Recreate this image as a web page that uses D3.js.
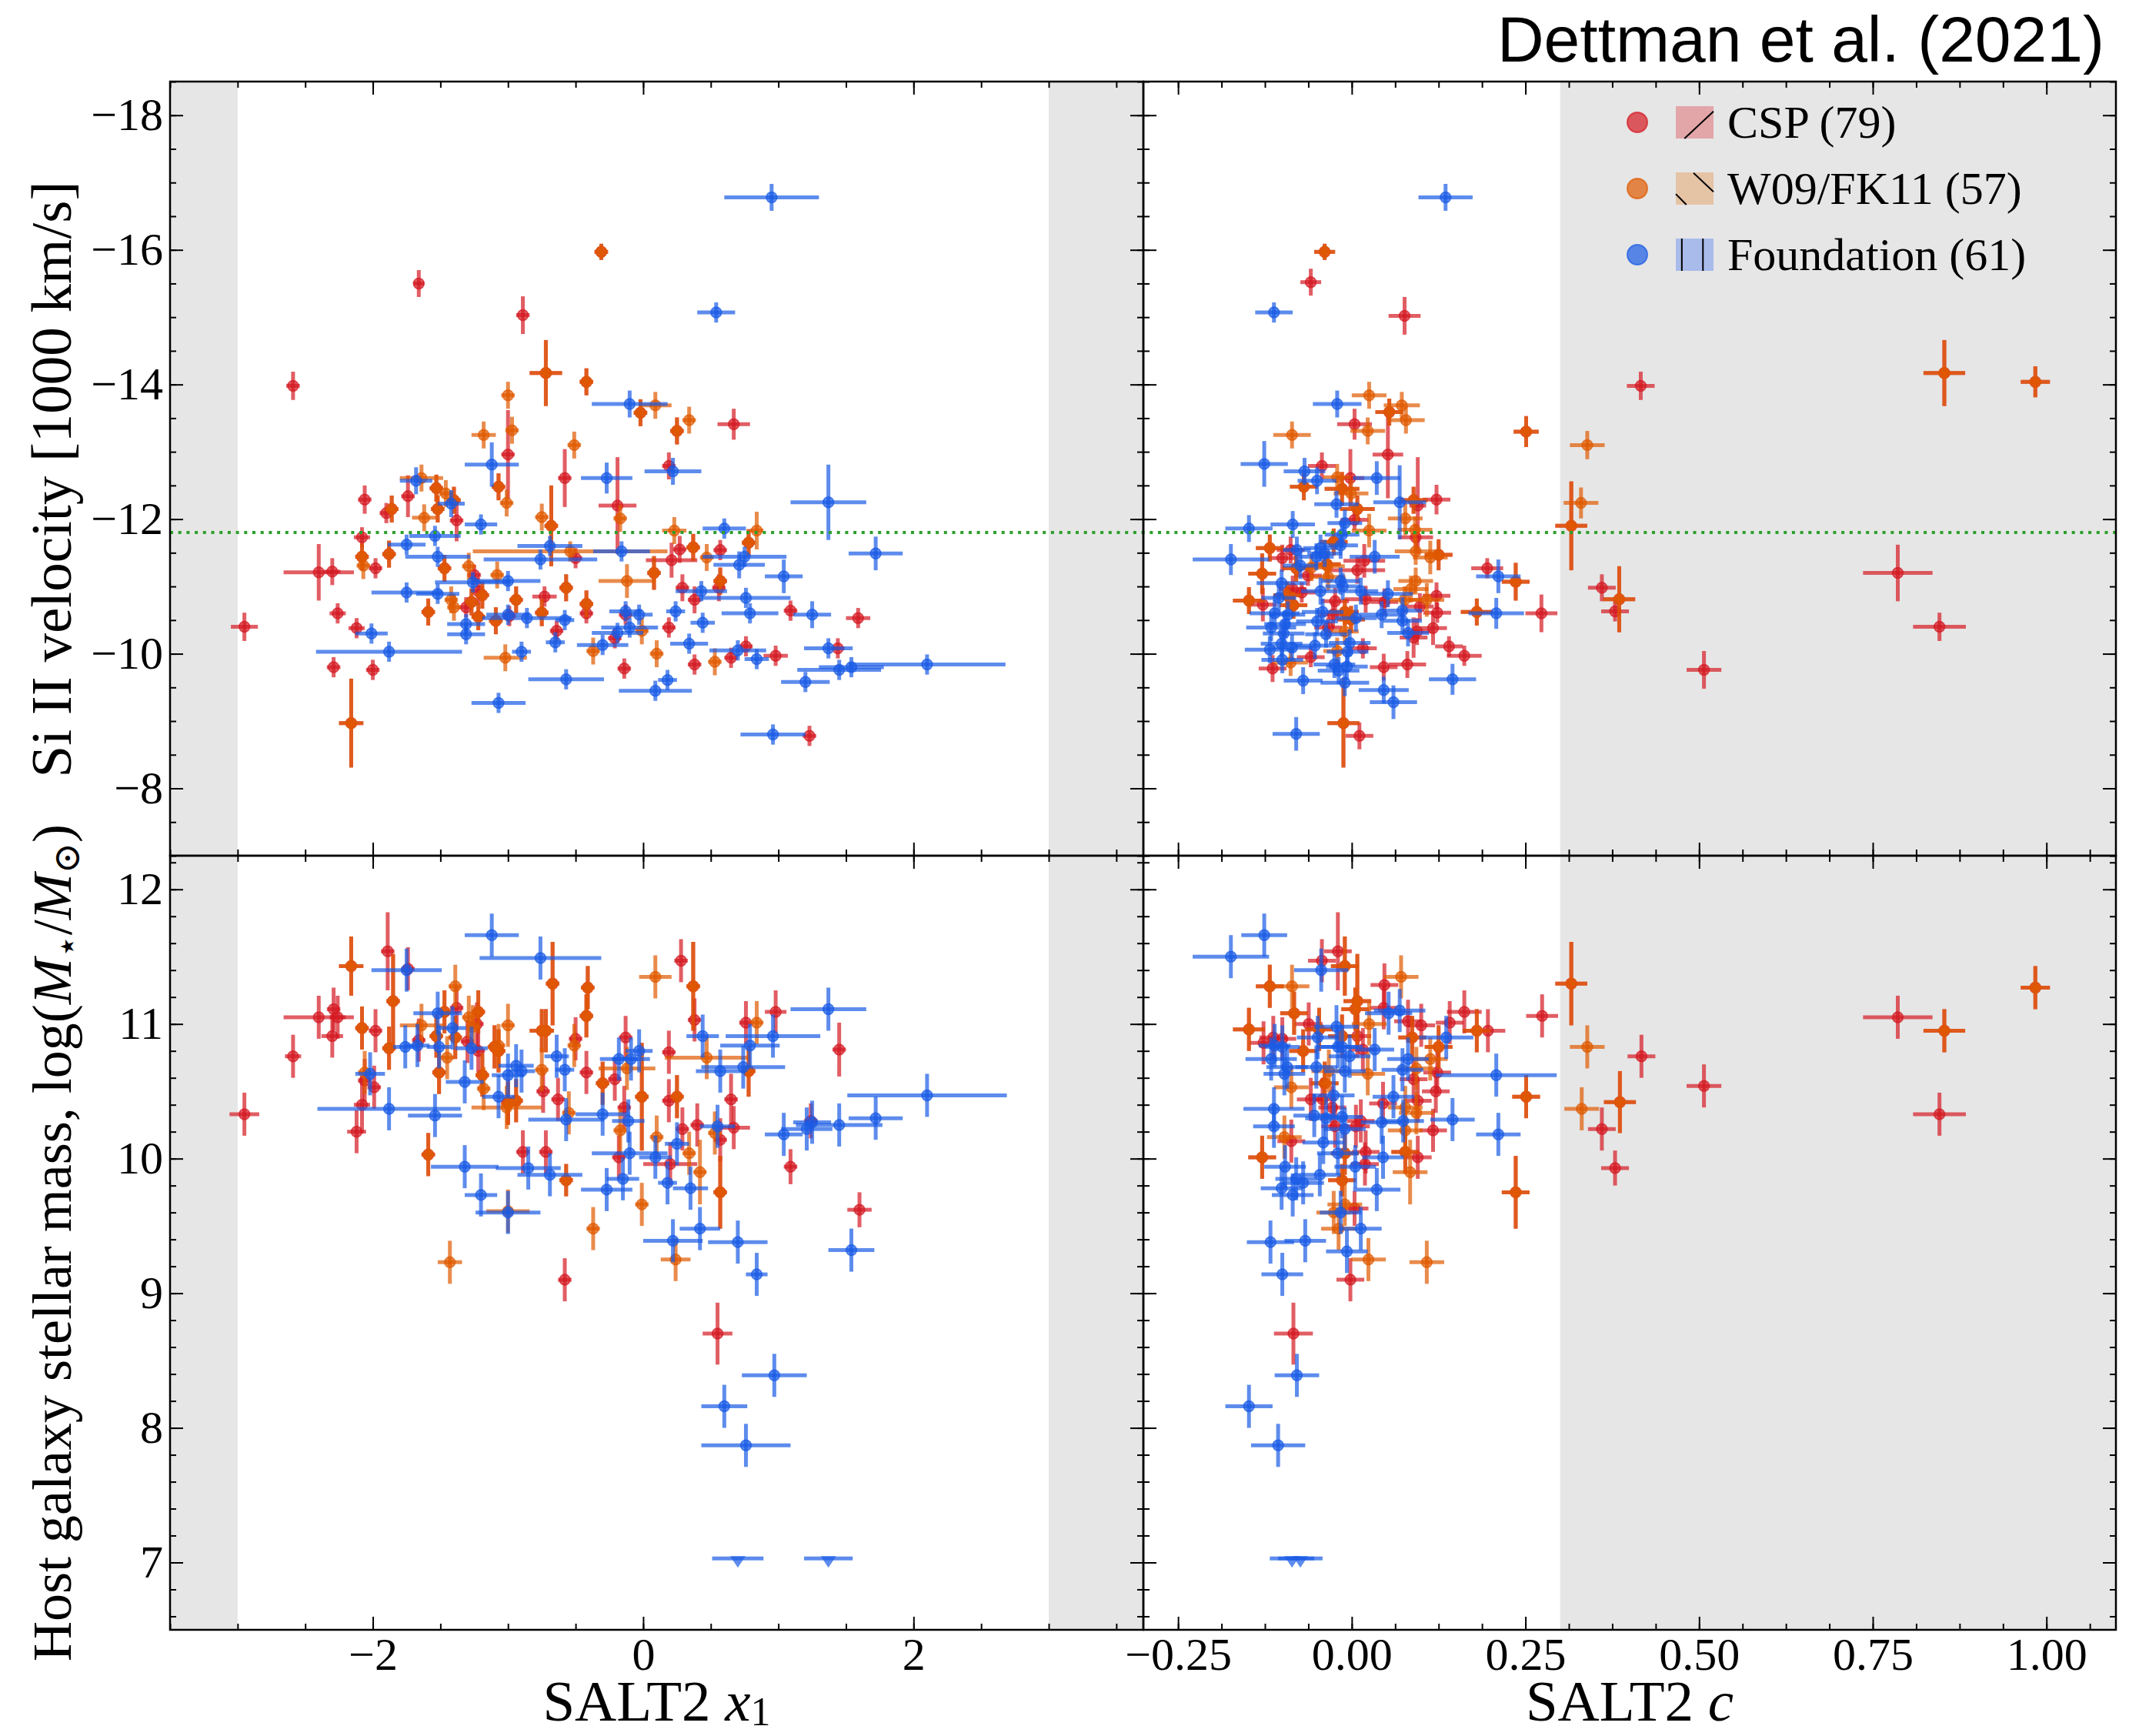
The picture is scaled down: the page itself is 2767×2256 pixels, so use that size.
<!DOCTYPE html>
<html>
<head>
<meta charset="utf-8">
<script src="https://cdn.jsdelivr.net/npm/d3@7"></script>
<style>
  body { margin: 0; background: #fff; }
  svg text { font-family: "Liberation Serif", "DejaVu Serif", serif; fill: #000; }
</style>
</head>
<body>
<svg id="chart"></svg>
<script>
// ---- data: [x, y, xerr, yerr] ----
// "Both" = SNe in CSP and in W09/FK11, plotted in both colours.

// SALT2 x1 vs Si II velocity (1000 km/s)
const x1VelCSP = [
  [-2.95,-10.40,0.10,0.21],[-2.59,-13.98,0.05,0.21],[-0.89,-15.03,0.05,0.28],[-1.66,-15.50,0.04,0.20],
  [-2.40,-11.21,0.26,0.42],[-2.30,-11.22,0.06,0.20],[-2.26,-10.60,0.06,0.15],[-2.12,-10.38,0.06,0.15],
  [-2.29,-9.80,0.05,0.15],[-2.00,-9.76,0.05,0.15],[-2.06,-12.29,0.05,0.21],[-2.08,-11.73,0.06,0.15],
  [-1.98,-11.27,0.05,0.15],[-1.90,-12.09,0.05,0.15],[-1.74,-12.34,0.05,0.31],[-1.38,-11.98,0.05,0.31],
  [-1.00,-12.96,0.05,0.66],[-0.58,-12.61,0.05,0.43],[-1.25,-11.17,0.05,0.15],[-1.31,-10.69,0.05,0.15],
  [-0.73,-10.85,0.09,0.15],[-0.64,-10.34,0.05,0.15],[-0.50,-11.42,0.05,0.15],[-0.42,-10.60,0.05,0.15],
  [-0.19,-12.20,0.14,0.72],[-0.21,-10.23,0.05,0.15],[-0.14,-9.78,0.05,0.15],[0.19,-12.79,0.05,0.20],
  [0.67,-13.41,0.12,0.23],[0.27,-11.55,0.05,0.20],[0.21,-11.39,0.19,0.26],[0.29,-10.98,0.05,0.20],
  [0.38,-10.80,0.05,0.20],[0.56,-10.98,0.05,0.20],[0.57,-11.54,0.05,0.15],[0.19,-10.39,0.05,0.15],
  [0.38,-9.84,0.05,0.15],[0.65,-9.94,0.05,0.15],[0.76,-10.11,0.05,0.15],[0.98,-9.97,0.09,0.15],
  [1.09,-10.64,0.05,0.15],[1.44,-10.08,0.05,0.15],[1.59,-10.53,0.09,0.15],[1.23,-8.78,0.05,0.15],
  [-0.13,-10.58,0.05,0.15],[-0.99,-10.56,0.05,0.15],[-1.22,-10.93,0.05,0.20]
];
const x1VelBoth = [
  [-0.31,-15.97,0.05,0.12],[-0.72,-14.17,0.12,0.49],[-0.42,-14.04,0.05,0.20],[-0.02,-13.58,0.05,0.20],
  [0.25,-13.31,0.05,0.20],[-1.07,-12.48,0.05,0.20],[-1.86,-12.15,0.05,0.20],[-1.53,-12.46,0.05,0.20],
  [-1.52,-12.15,0.05,0.20],[-1.40,-12.28,0.05,0.20],[-0.68,-11.90,0.05,0.60],[-2.08,-11.44,0.05,0.20],
  [-1.88,-11.48,0.05,0.20],[-1.47,-11.27,0.05,0.20],[-1.59,-10.62,0.05,0.20],[-1.22,-10.55,0.05,0.20],
  [-1.09,-10.49,0.05,0.20],[-0.94,-10.80,0.05,0.20],[-1.19,-10.87,0.05,0.20],[-1.27,-10.77,0.05,0.20],
  [-0.75,-10.61,0.05,0.20],[-0.57,-10.98,0.05,0.20],[-0.42,-10.74,0.05,0.20],[0.08,-11.20,0.05,0.25],
  [0.37,-11.58,0.05,0.20],[0.78,-11.65,0.05,0.20],[-2.16,-8.97,0.09,0.66],[0.57,-11.08,0.05,0.20]
];
const x1VelW09 = [
  [-1.00,-13.84,0.05,0.20],[-0.97,-13.32,0.05,0.20],[-1.18,-13.25,0.09,0.20],[-0.51,-13.10,0.05,0.20],
  [0.09,-13.69,0.12,0.20],[0.34,-13.47,0.05,0.20],[-1.64,-12.61,0.16,0.20],[-1.46,-12.38,0.05,0.20],
  [-1.62,-12.02,0.09,0.20],[-1.01,-12.24,0.05,0.20],[-0.75,-12.03,0.05,0.20],[-0.17,-12.01,0.05,0.20],
  [0.23,-11.83,0.09,0.20],[0.84,-11.83,0.05,0.28],[-0.54,-11.52,0.72,0.15],[-2.07,-11.31,0.05,0.20],
  [-1.29,-11.30,0.05,0.20],[-1.08,-11.17,0.05,0.20],[-1.42,-10.80,0.05,0.20],[-1.40,-10.69,0.05,0.20],
  [-0.12,-11.08,0.21,0.25],[0.47,-11.43,0.05,0.20],[-0.01,-10.34,0.05,0.20],[-0.37,-10.04,0.05,0.20],
  [0.10,-10.00,0.05,0.20],[0.53,-9.88,0.05,0.20],[-1.02,-9.94,0.16,0.20]
];
const x1VelFnd = [
  [0.95,-16.78,0.35,0.20],[0.54,-15.07,0.14,0.15],[-0.10,-13.71,0.28,0.20],[-1.12,-12.81,0.20,0.33],
  [-1.68,-12.57,0.12,0.20],[-1.42,-12.23,0.10,0.20],[-0.27,-12.61,0.19,0.23],[0.22,-12.71,0.21,0.20],
  [1.37,-12.25,0.28,0.56],[-1.20,-11.92,0.12,0.15],[-1.54,-11.75,0.19,0.15],[-1.75,-11.62,0.14,0.15],
  [-1.52,-11.44,0.24,0.15],[-0.69,-11.60,0.24,0.15],[-0.76,-11.40,0.42,0.15],[-0.16,-11.52,0.21,0.15],
  [0.60,-11.86,0.16,0.15],[1.72,-11.49,0.20,0.25],[0.71,-11.32,0.19,0.20],[0.75,-11.44,0.31,0.15],
  [1.04,-11.15,0.14,0.25],[-1.75,-10.91,0.26,0.15],[-1.52,-10.89,0.16,0.15],[-1.26,-11.06,0.28,0.15],
  [-1.00,-11.08,0.24,0.15],[0.43,-10.93,0.19,0.15],[0.76,-10.83,0.33,0.15],[0.79,-10.60,0.21,0.15],
  [1.25,-10.58,0.14,0.20],[0.24,-10.63,0.07,0.15],[0.44,-10.46,0.09,0.15],[-0.13,-10.63,0.12,0.15],
  [-0.03,-10.58,0.10,0.15],[-1.00,-10.58,0.16,0.15],[-0.86,-10.53,0.33,0.15],[-0.58,-10.50,0.07,0.15],
  [-1.31,-10.44,0.14,0.15],[-1.31,-10.29,0.14,0.15],[-2.01,-10.30,0.12,0.15],[-1.88,-10.03,0.54,0.15],
  [-0.90,-10.03,0.07,0.15],[-0.65,-10.17,0.07,0.15],[-0.30,-10.13,0.19,0.15],[-0.19,-10.31,0.19,0.15],
  [-0.10,-10.39,0.21,0.15],[0.34,-10.15,0.14,0.15],[0.70,-10.05,0.21,0.15],[0.84,-9.92,0.09,0.15],
  [1.37,-10.08,0.18,0.15],[1.45,-9.76,0.31,0.15],[1.54,-9.80,0.24,0.15],[2.10,-9.84,0.58,0.15],
  [1.20,-9.58,0.18,0.15],[0.18,-9.61,0.07,0.15],[0.09,-9.45,0.27,0.15],[-0.57,-9.62,0.28,0.15],
  [-1.07,-9.27,0.20,0.15],[0.96,-8.80,0.24,0.15]
];

// SALT2 c vs Si II velocity
const cVelCSP = [
  [0.416,-13.98,0.020,0.21],[0.786,-11.20,0.050,0.42],[0.360,-10.98,0.020,0.20],[0.379,-10.63,0.020,0.15],
  [0.846,-10.40,0.038,0.21],[0.507,-9.76,0.025,0.28],[0.273,-10.60,0.023,0.28],[0.195,-11.27,0.023,0.15],
  [0.140,-10.11,0.020,0.15],[0.162,-9.97,0.025,0.15],[0.076,-15.02,0.023,0.28],[-0.059,-15.52,0.015,0.20],
  [0.004,-13.41,0.025,0.23],[0.052,-12.96,0.022,0.65],[-0.043,-12.79,0.020,0.20],[-0.002,-12.61,0.020,0.43],
  [0.122,-12.29,0.020,0.22],[0.095,-12.20,0.012,0.72],[0.004,-11.99,0.020,0.15],[0.092,-11.73,0.025,0.20],
  [-0.088,-11.54,0.020,0.20],[-0.100,-11.42,0.020,0.20],[0.018,-11.38,0.030,0.25],[0.008,-11.24,0.040,0.20],
  [-0.063,-11.16,0.020,0.15],[-0.085,-10.96,0.020,0.20],[-0.072,-10.91,0.020,0.15],[-0.128,-10.73,0.020,0.25],
  [-0.024,-10.78,0.020,0.20],[0.020,-10.81,0.030,0.20],[0.047,-10.77,0.020,0.20],[0.122,-10.86,0.020,0.20],
  [0.098,-10.70,0.020,0.20],[0.123,-10.61,0.020,0.15],[-0.027,-10.58,0.020,0.20],[-0.034,-10.39,0.020,0.15],
  [0.094,-10.33,0.020,0.20],[0.089,-10.24,0.020,0.30],[0.117,-10.38,0.020,0.25],[0.016,-10.08,0.020,0.15],
  [-0.059,-9.95,0.020,0.15],[0.046,-9.80,0.020,0.20],[0.080,-9.84,0.027,0.20],[-0.114,-9.78,0.020,0.20],
  [0.011,-8.78,0.020,0.20]
];
const cVelBoth = [
  [-0.039,-15.97,0.015,0.12],[0.853,-14.17,0.030,0.49],[0.984,-14.04,0.021,0.23],[0.251,-13.30,0.018,0.23],
  [0.316,-11.90,0.023,0.66],[0.385,-10.81,0.023,0.49],[0.180,-10.62,0.023,0.20],[0.236,-11.07,0.020,0.28],
  [-0.012,-8.97,0.023,0.66],[0.054,-13.59,0.020,0.20],[-0.069,-12.48,0.020,0.20],[-0.014,-12.45,0.025,0.25],
  [0.008,-12.15,0.025,0.20],[0.089,-12.28,0.020,0.20],[-0.026,-11.66,0.020,0.20],[-0.118,-11.57,0.020,0.20],
  [-0.129,-11.19,0.020,0.30],[0.125,-11.47,0.020,0.23],[-0.148,-10.79,0.023,0.20],[-0.084,-10.72,0.020,0.20],
  [-0.093,-10.87,0.020,0.20],[-0.010,-10.62,0.020,0.20],[-0.001,-10.51,0.020,0.20],[-0.080,-11.27,0.020,0.20],
  [-0.036,-11.33,0.020,0.20]
];
const cVelW09 = [
  [0.339,-13.10,0.025,0.21],[0.330,-12.24,0.025,0.23],[-0.086,-13.25,0.027,0.20],[0.025,-13.84,0.025,0.20],
  [0.072,-13.69,0.026,0.20],[0.078,-13.47,0.027,0.20],[0.023,-13.31,0.025,0.20],[-0.021,-12.62,0.020,0.20],
  [-0.001,-12.38,0.025,0.20],[0.077,-12.01,0.025,0.25],[0.091,-11.84,0.025,0.20],[0.025,-11.83,0.025,0.25],
  [0.092,-11.52,0.030,0.20],[0.113,-11.43,0.025,0.25],[-0.035,-11.30,0.025,0.20],[-0.034,-11.14,0.025,0.20],
  [-0.058,-11.28,0.025,0.20],[0.092,-11.08,0.025,0.20],[0.085,-10.96,0.025,0.20],[0.108,-10.80,0.025,0.25],
  [0.076,-10.80,0.025,0.20],[-0.010,-10.33,0.020,0.20],[-0.088,-9.87,0.025,0.20],[-0.021,-10.04,0.020,0.20]
];
const cVelFnd = [
  [0.135,-16.78,0.039,0.20],[-0.112,-15.07,0.027,0.15],[-0.021,-13.71,0.035,0.20],[-0.126,-12.82,0.034,0.34],
  [-0.068,-12.71,0.030,0.20],[-0.050,-12.57,0.028,0.20],[0.036,-12.61,0.034,0.25],[0.069,-12.25,0.038,0.55],
  [-0.022,-12.22,0.032,0.20],[-0.085,-11.92,0.032,0.20],[-0.148,-11.86,0.034,0.20],[-0.010,-11.94,0.025,0.20],
  [-0.014,-11.77,0.025,0.20],[-0.016,-11.61,0.025,0.20],[-0.174,-11.40,0.055,0.23],[-0.079,-11.54,0.020,0.20],
  [-0.045,-11.57,0.025,0.20],[-0.051,-11.44,0.025,0.20],[-0.039,-11.49,0.025,0.20],[-0.074,-11.31,0.025,0.20],
  [0.033,-11.44,0.036,0.25],[-0.101,-11.05,0.036,0.20],[-0.016,-11.08,0.028,0.20],[-0.013,-11.00,0.025,0.20],
  [-0.045,-10.93,0.028,0.20],[0.013,-10.93,0.025,0.20],[0.052,-10.89,0.036,0.20],[0.211,-11.15,0.032,0.25],
  [-0.105,-10.83,0.025,0.20],[-0.111,-10.60,0.036,0.20],[-0.092,-10.58,0.025,0.20],[-0.042,-10.62,0.030,0.20],
  [0.043,-10.58,0.032,0.20],[0.073,-10.64,0.028,0.20],[0.073,-10.49,0.028,0.20],[0.208,-10.60,0.040,0.23],
  [0.006,-10.53,0.030,0.20],[-0.116,-10.39,0.036,0.20],[-0.096,-10.44,0.030,0.20],[-0.098,-10.30,0.030,0.20],
  [-0.050,-10.48,0.030,0.20],[-0.037,-10.29,0.030,0.20],[0.081,-10.31,0.030,0.20],[-0.003,-10.16,0.030,0.20],
  [-0.101,-10.15,0.030,0.20],[-0.053,-10.12,0.030,0.20],[-0.086,-10.09,0.030,0.20],[-0.118,-10.06,0.036,0.20],
  [-0.100,-9.91,0.030,0.20],[-0.006,-10.03,0.030,0.20],[-0.025,-9.84,0.030,0.20],[-0.007,-9.81,0.030,0.20],
  [-0.019,-9.75,0.030,0.20],[-0.010,-9.57,0.035,0.20],[-0.070,-9.60,0.028,0.20],[0.046,-9.46,0.036,0.20],
  [0.060,-9.28,0.034,0.25],[0.145,-9.62,0.034,0.23],[-0.080,-8.81,0.034,0.25]
];

// SALT2 x1 vs host mass log(M*/Msun)
const x1MassCSP = [
  [-2.95,10.33,0.11,0.16],[-2.59,10.76,0.06,0.16],[-2.40,11.05,0.26,0.16],[-2.29,11.11,0.05,0.16],
  [-2.26,11.05,0.06,0.16],[-2.30,10.91,0.08,0.16],[-2.08,10.40,0.06,0.21],[-2.12,10.20,0.07,0.16],
  [-1.98,10.95,0.05,0.16],[-1.99,10.53,0.05,0.16],[-2.06,10.58,0.05,0.16],[-1.89,11.54,0.05,0.29],
  [-1.74,11.41,0.05,0.16],[-1.66,10.88,0.05,0.16],[-1.38,11.12,0.05,0.16],[-1.30,10.87,0.05,0.16],
  [-1.23,11.00,0.05,0.16],[-1.22,10.80,0.05,0.16],[-1.00,10.42,0.05,0.16],[-0.89,10.05,0.05,0.16],
  [-0.74,10.50,0.05,0.16],[-0.72,10.05,0.05,0.16],[-0.63,10.44,0.05,0.16],[-0.58,9.10,0.05,0.16],
  [-0.50,10.89,0.05,0.16],[-0.42,10.64,0.05,0.16],[-0.21,10.59,0.05,0.16],[-0.13,10.90,0.05,0.16],
  [-0.14,10.38,0.05,0.16],[-0.18,10.01,0.05,0.16],[0.19,10.79,0.05,0.16],[0.19,10.43,0.05,0.16],
  [0.20,9.96,0.20,0.16],[0.28,11.47,0.05,0.16],[0.38,11.03,0.05,0.16],[0.76,11.01,0.05,0.16],
  [0.98,11.09,0.08,0.16],[1.45,10.81,0.05,0.20],[0.65,10.44,0.05,0.19],[0.40,10.25,0.05,0.16],
  [0.29,10.22,0.05,0.16],[0.67,10.23,0.12,0.16],[0.57,10.14,0.05,0.16],[1.09,9.94,0.05,0.13],
  [1.24,10.28,0.05,0.13],[1.60,9.62,0.09,0.13],[0.55,8.70,0.11,0.23]
];
const x1MassBoth = [
  [-2.16,11.43,0.09,0.22],[-2.08,10.97,0.05,0.16],[-1.85,11.17,0.05,0.35],[-1.88,10.82,0.05,0.16],
  [-1.59,10.03,0.05,0.16],[-1.51,10.64,0.05,0.16],[-1.53,10.91,0.05,0.16],[-1.47,11.09,0.05,0.16],
  [-1.39,10.90,0.05,0.16],[-1.22,11.09,0.05,0.16],[-1.19,10.62,0.05,0.16],[-1.10,10.83,0.05,0.16],
  [-1.07,10.80,0.05,0.16],[-0.94,10.43,0.05,0.16],[-1.00,10.41,0.05,0.16],[-0.67,11.30,0.05,0.31],
  [-0.75,10.95,0.09,0.16],[-0.72,10.95,0.05,0.16],[-0.57,9.84,0.05,0.12],[-0.41,11.27,0.05,0.16],
  [-0.42,11.06,0.05,0.16],[-0.30,10.56,0.05,0.16],[-0.01,10.46,0.05,0.40],[0.37,11.28,0.05,0.33],
  [0.25,10.46,0.05,0.16],[0.78,10.65,0.05,0.19],[0.57,9.75,0.05,0.27]
];
const x1MassW09 = [
  [-2.06,10.64,0.05,0.16],[-1.64,10.99,0.16,0.16],[-1.45,10.75,0.05,0.16],[-1.39,11.28,0.05,0.16],
  [-1.29,11.05,0.05,0.16],[-1.26,10.98,0.05,0.16],[-1.18,10.52,0.05,0.16],[-1.00,10.99,0.05,0.16],
  [-1.07,10.84,0.05,0.16],[-1.01,10.38,0.26,0.16],[-1.43,9.23,0.09,0.16],[-0.75,10.66,0.05,0.16],
  [-0.51,10.84,0.05,0.16],[-0.55,10.34,0.05,0.16],[-0.17,10.21,0.05,0.16],[-0.12,10.67,0.21,0.16],
  [0.09,11.35,0.12,0.16],[0.10,10.16,0.05,0.16],[-0.01,9.66,0.05,0.16],[-0.37,9.48,0.05,0.16],
  [-1.00,9.61,0.16,0.16],[0.84,11.01,0.05,0.16],[0.47,10.75,0.31,0.16],[0.53,10.19,0.05,0.16],
  [0.34,10.04,0.05,0.16],[0.42,9.90,0.05,0.24],[0.24,9.25,0.11,0.16]
];
const x1MassFnd = [
  [-1.12,11.66,0.20,0.16],[-0.76,11.49,0.45,0.16],[-1.75,11.40,0.26,0.16],[-1.52,11.08,0.18,0.16],
  [-1.41,10.97,0.10,0.16],[-1.76,10.83,0.09,0.16],[-1.67,10.84,0.09,0.16],[-1.51,10.83,0.09,0.16],
  [-1.27,10.82,0.12,0.16],[-2.02,10.63,0.11,0.16],[-1.88,10.37,0.53,0.16],[-1.54,10.32,0.20,0.16],
  [-1.32,10.57,0.14,0.16],[-1.07,10.46,0.12,0.16],[-1.00,10.62,0.12,0.16],[-0.94,10.69,0.13,0.16],
  [-0.90,10.65,0.10,0.16],[-0.64,10.76,0.09,0.16],[-0.58,10.66,0.07,0.16],[-0.57,10.29,0.28,0.16],
  [-0.30,10.33,0.20,0.16],[-0.18,10.74,0.14,0.16],[-0.09,10.74,0.14,0.16],[-0.03,10.80,0.10,0.16],
  [-0.11,10.28,0.12,0.16],[-0.10,10.04,0.28,0.16],[-1.32,9.94,0.25,0.16],[-0.85,9.93,0.24,0.16],
  [-0.69,9.88,0.24,0.16],[-1.20,9.73,0.12,0.16],[-1.00,9.60,0.24,0.16],[-0.27,9.77,0.19,0.16],
  [-0.15,9.85,0.12,0.16],[0.18,9.82,0.07,0.16],[1.37,11.11,0.28,0.16],[0.44,10.91,0.12,0.16],
  [0.79,10.84,0.22,0.16],[0.96,10.91,0.35,0.16],[0.57,10.65,0.18,0.16],[0.74,10.68,0.31,0.16],
  [2.10,10.47,0.59,0.16],[0.55,10.24,0.13,0.16],[1.04,10.18,0.14,0.16],[1.21,10.22,0.19,0.16],
  [1.25,10.27,0.14,0.16],[1.45,10.25,0.32,0.16],[1.72,10.30,0.20,0.16],[0.25,10.11,0.09,0.16],
  [0.09,10.01,0.12,0.16],[0.35,9.78,0.13,0.16],[0.42,9.48,0.15,0.16],[0.22,9.39,0.22,0.16],
  [0.70,9.38,0.22,0.16],[0.84,9.14,0.08,0.16],[1.54,9.32,0.17,0.16],[0.97,8.39,0.24,0.16],
  [0.60,8.16,0.17,0.16],[0.76,7.87,0.33,0.16]
];
const x1MassFndLim = [[0.70,7.03,0.19],[1.37,7.03,0.18]];  // upper limits [x, y, xerr]

// SALT2 c vs host mass
const cMassCSP = [
  [-0.020,11.54,0.020,0.29],[-0.043,11.47,0.020,0.16],[0.047,11.29,0.020,0.16],[0.162,11.09,0.025,0.16],
  [0.141,11.01,0.020,0.16],[0.196,10.95,0.025,0.16],[0.100,10.99,0.020,0.16],[0.046,11.12,0.020,0.16],
  [0.081,11.02,0.020,0.16],[-0.127,10.86,0.020,0.16],[-0.113,10.90,0.020,0.16],[-0.100,10.89,0.020,0.16],
  [0.008,10.91,0.020,0.16],[0.016,10.81,0.020,0.16],[-0.062,11.00,0.020,0.16],[0.089,10.59,0.020,0.16],
  [0.123,10.64,0.020,0.16],[0.121,10.50,0.020,0.16],[0.095,10.43,0.020,0.16],[-0.059,10.44,0.020,0.16],
  [-0.042,10.44,0.020,0.16],[-0.028,10.38,0.020,0.16],[0.045,10.41,0.020,0.16],[0.117,10.21,0.020,0.16],
  [0.013,10.28,0.020,0.16],[0.006,10.24,0.020,0.16],[-0.024,10.24,0.020,0.16],[-0.087,10.13,0.020,0.16],
  [0.020,10.05,0.020,0.16],[0.019,9.96,0.020,0.16],[0.095,10.01,0.020,0.16],[0.004,9.63,0.020,0.13],
  [-0.002,9.10,0.020,0.16],[-0.084,8.70,0.028,0.23],[0.274,11.06,0.023,0.16],[0.360,10.22,0.020,0.16],
  [0.379,9.93,0.020,0.13],[0.417,10.76,0.020,0.16],[0.786,11.05,0.050,0.16],[0.846,10.33,0.038,0.16],
  [0.507,10.54,0.025,0.16]
];
const cMassBoth = [
  [-0.118,11.28,0.020,0.16],[-0.148,10.96,0.023,0.16],[-0.083,11.08,0.020,0.16],[-0.010,11.43,0.020,0.22],
  [0.008,11.17,0.020,0.35],[0.005,11.11,0.020,0.16],[-0.047,10.96,0.020,0.16],[-0.014,10.91,0.020,0.16],
  [-0.070,10.80,0.020,0.16],[0.087,10.90,0.020,0.16],[0.125,10.83,0.020,0.16],[0.180,10.95,0.020,0.16],
  [-0.039,10.56,0.020,0.16],[-0.129,10.01,0.020,0.16],[-0.014,9.84,0.020,0.12],[-0.010,10.04,0.020,0.16],
  [0.077,10.05,0.020,0.16],[0.251,10.46,0.020,0.16],[0.236,9.75,0.020,0.27],[0.316,11.30,0.023,0.31],
  [0.386,10.42,0.023,0.23],[0.853,10.95,0.030,0.16],[0.984,11.27,0.021,0.16]
];
const cMassW09 = [
  [-0.086,11.28,0.025,0.16],[0.071,11.35,0.025,0.16],[0.025,11.00,0.025,0.16],[0.113,10.74,0.025,0.16],
  [0.093,10.67,0.025,0.16],[0.023,10.63,0.025,0.16],[-0.087,10.53,0.025,0.16],[-0.033,10.65,0.025,0.16],
  [0.077,10.38,0.025,0.16],[0.093,10.34,0.025,0.16],[0.077,10.21,0.025,0.16],[-0.097,10.16,0.025,0.16],
  [0.084,9.90,0.025,0.24],[-0.010,9.66,0.025,0.16],[-0.026,9.60,0.025,0.16],[-0.019,9.48,0.025,0.16],
  [0.024,9.25,0.025,0.16],[0.108,9.23,0.025,0.16],[0.339,10.83,0.025,0.16],[0.331,10.37,0.025,0.16]
];
const cMassFnd = [
  [-0.126,11.66,0.033,0.16],[-0.174,11.50,0.055,0.16],[-0.044,11.40,0.039,0.16],[0.053,11.08,0.034,0.16],
  [0.069,11.10,0.037,0.16],[-0.022,10.98,0.032,0.16],[-0.049,10.90,0.030,0.16],[-0.111,10.84,0.023,0.16],
  [-0.100,10.83,0.025,0.16],[-0.116,10.74,0.037,0.16],[-0.097,10.63,0.030,0.16],[-0.093,10.68,0.030,0.16],
  [-0.051,10.68,0.030,0.16],[-0.020,10.83,0.030,0.16],[-0.014,10.83,0.030,0.16],[-0.003,10.76,0.030,0.16],
  [-0.010,10.65,0.030,0.16],[0.033,10.81,0.028,0.16],[0.081,10.74,0.030,0.16],[0.073,10.66,0.030,0.16],
  [0.136,10.90,0.039,0.16],[0.208,10.62,0.087,0.16],[-0.112,10.37,0.044,0.16],[-0.112,10.24,0.030,0.16],
  [-0.054,10.32,0.030,0.16],[-0.037,10.30,0.030,0.16],[-0.014,10.31,0.030,0.16],[-0.010,10.22,0.030,0.16],
  [-0.026,10.47,0.030,0.16],[0.043,10.27,0.030,0.16],[0.060,10.46,0.030,0.16],[0.074,10.28,0.030,0.16],
  [0.145,10.29,0.032,0.16],[0.211,10.18,0.032,0.16],[-0.041,10.12,0.030,0.16],[-0.020,10.04,0.030,0.16],
  [0.045,10.01,0.030,0.16],[-0.096,9.94,0.030,0.16],[-0.046,9.88,0.030,0.16],[0.005,9.94,0.030,0.16],
  [-0.080,9.85,0.030,0.16],[-0.070,9.82,0.030,0.16],[-0.101,9.78,0.030,0.16],[-0.085,9.73,0.030,0.16],
  [0.036,9.77,0.034,0.16],[-0.016,9.60,0.030,0.16],[0.013,9.48,0.030,0.16],[-0.117,9.38,0.034,0.16],
  [-0.067,9.39,0.030,0.16],[-0.007,9.31,0.030,0.16],[-0.100,9.14,0.030,0.16],[-0.079,8.39,0.032,0.16],
  [-0.148,8.16,0.034,0.16],[-0.106,7.87,0.039,0.16]
];
const cMassFndLim = [[-0.086,7.03,0.032],[-0.074,7.03,0.032]];

const legendLabels = ['CSP (79)', 'W09/FK11 (57)', 'Foundation (61)'];
const velCut = -11.8;   // dotted line
const x1Cut = 3;        // shaded |x1| > 3
const cCut = 0.3;       // shaded c > 0.3

// ---- layout ----
const W = 2767, H = 2256;
const L = 221, M = 1486, R = 2750, T = 106, MY = 1112, B = 2118;
const colCSP = '#d41a22', colW09 = '#e05a00', colFnd = '#1a5be6';
const alpha = 0.7;

const svg = d3.select('#chart').attr('width', W).attr('height', H)
  .style('display', 'block').style('background', '#fff');

const x1 = d3.scaleLinear().domain([-3.5, 3.7]).range([L, M]);
const cx = d3.scaleLinear().domain([-0.3, 1.1]).range([M, R]);
const vel = d3.scaleLinear().domain([-7, -18.5]).range([MY, T]);
const mass = d3.scaleLinear().domain([6.5, 12.25]).range([B, MY]);

const stepRange = (a, b, s) => d3.range(Math.round((b - a) / s) + 1).map(i => +(a + i * s).toFixed(5));
const x1Major = [-2, 0, 2], x1Minor = stepRange(-3.5, 3.5, 0.5);
const cMajor = [-0.25, 0, 0.25, 0.5, 0.75, 1.0], cMinor = stepRange(-0.25, 1.0625, 0.0625);
const velMajor = [-18, -16, -14, -12, -10, -8], velMinor = stepRange(-18.5, -7, 0.5);
const massMajor = [7, 8, 9, 10, 11, 12], massMinor = stepRange(6.6, 12.2, 0.2);

// shaded regions
function shade(xs, ys, x0, x1v) {
  svg.append('rect')
    .attr('x', xs(x0)).attr('y', ys.range()[1])
    .attr('width', xs(x1v) - xs(x0)).attr('height', ys.range()[0] - ys.range()[1])
    .attr('fill', '#e6e6e6');
}
shade(x1, vel, -3.5, -x1Cut); shade(x1, vel, x1Cut, 3.7);
shade(x1, mass, -3.5, -x1Cut); shade(x1, mass, x1Cut, 3.7);
shade(cx, vel, cCut, 1.1); shade(cx, mass, cCut, 1.1);

// error bar series: all bars first, then markers
function series(xs, ys, data, col) {
  const g = svg.append('g');
  g.selectAll('line.h').data(data).join('line')
    .attr('x1', d => xs(d[0] - d[2])).attr('x2', d => xs(d[0] + d[2]))
    .attr('y1', d => ys(d[1])).attr('y2', d => ys(d[1]))
    .attr('stroke', col).attr('stroke-opacity', alpha).attr('stroke-width', 5);
  g.selectAll('line.v').data(data).join('line')
    .attr('x1', d => xs(d[0])).attr('x2', d => xs(d[0]))
    .attr('y1', d => ys(d[1] - d[3])).attr('y2', d => ys(d[1] + d[3]))
    .attr('stroke', col).attr('stroke-opacity', alpha).attr('stroke-width', 5);
  g.selectAll('circle').data(data).join('circle')
    .attr('cx', d => xs(d[0])).attr('cy', d => ys(d[1])).attr('r', 7)
    .attr('fill', col).attr('fill-opacity', alpha)
    .attr('stroke', col).attr('stroke-opacity', alpha).attr('stroke-width', 1.5);
}

function limits(xs, ys, data, col) {
  const g = svg.append('g');
  g.selectAll('line').data(data).join('line')
    .attr('x1', d => xs(d[0] - d[2])).attr('x2', d => xs(d[0] + d[2]))
    .attr('y1', d => ys(d[1])).attr('y2', d => ys(d[1]))
    .attr('stroke', col).attr('stroke-opacity', alpha).attr('stroke-width', 5);
  g.selectAll('path').data(data).join('path')
    .attr('d', d => {
      const px = xs(d[0]), py = ys(d[1]);
      return `M${px - 10},${py - 3}L${px + 10},${py - 3}L${px},${py + 12}Z`;
    })
    .attr('fill', col).attr('fill-opacity', alpha);
}

function points(xs, ys, csp, both, w09, fnd, lim) {
  series(xs, ys, csp.concat(both), colCSP);
  series(xs, ys, w09.concat(both), colW09);
  series(xs, ys, fnd, colFnd);
  if (lim) limits(xs, ys, lim, colFnd);
}
points(x1, vel, x1VelCSP, x1VelBoth, x1VelW09, x1VelFnd);
points(cx, vel, cVelCSP, cVelBoth, cVelW09, cVelFnd);
points(x1, mass, x1MassCSP, x1MassBoth, x1MassW09, x1MassFnd, x1MassFndLim);
points(cx, mass, cMassCSP, cMassBoth, cMassW09, cMassFnd, cMassFndLim);

// dotted velocity line across both top panels
svg.append('line')
  .attr('x1', L).attr('x2', R).attr('y1', vel(velCut)).attr('y2', vel(velCut))
  .attr('stroke', '#2ca02c').attr('stroke-width', 4).attr('stroke-dasharray', '4,6.7');

// ticks (inward, all four sides)
function ticks(side, scale, pos, majors, minors, fmt) {
  const make = { bottom: d3.axisBottom, top: d3.axisTop, left: d3.axisLeft, right: d3.axisRight }[side];
  const tr = (side === 'bottom' || side === 'top') ? `translate(0,${pos})` : `translate(${pos},0)`;
  const gMin = svg.append('g').attr('transform', tr)
    .call(make(scale).tickValues(minors).tickSize(-8).tickFormat(''));
  const gMaj = svg.append('g').attr('transform', tr)
    .call(make(scale).tickValues(majors).tickSize(-17).tickPadding(9).tickFormat(fmt || (() => '')));
  [gMin, gMaj].forEach(g => {
    g.select('.domain').remove();
    g.selectAll('line').attr('stroke', '#000').attr('stroke-width', 2);
  });
  gMaj.selectAll('text').attr('font-size', 60).attr('fill', '#000')
    .attr('font-family', '"Liberation Serif", serif');
}
const fmtInt = d3.format('d'), fmtC = d3.format('.2f');

function panelAxes(xs, ys, xMaj, xMin, yMaj, yMin, xFmt, yFmt) {
  const [x0, x1p] = xs.range(), [y0, y1p] = ys.range();
  ticks('bottom', xs, y0, xMaj, xMin, xFmt);
  ticks('top', xs, y1p, xMaj, xMin);
  ticks('left', ys, x0, yMaj, yMin, yFmt);
  ticks('right', ys, x1p, yMaj, yMin);
  svg.append('rect').attr('x', x0).attr('y', y1p).attr('width', x1p - x0).attr('height', y0 - y1p)
    .attr('fill', 'none').attr('stroke', '#000').attr('stroke-width', 2.5);
}
panelAxes(x1, vel, x1Major, x1Minor, velMajor, velMinor, null, fmtInt);
panelAxes(cx, vel, cMajor, cMinor, velMajor, velMinor, null, null);
panelAxes(x1, mass, x1Major, x1Minor, massMajor, massMinor, fmtInt, fmtInt);
panelAxes(cx, mass, cMajor, cMinor, massMajor, massMinor, fmtC, null);

// axis labels
const labSize = 75, subSize = 52;
const xl1 = svg.append('text').attr('x', (L + M) / 2).attr('y', 2236)
  .attr('text-anchor', 'middle').attr('font-size', labSize);
xl1.append('tspan').text('SALT2 ');
xl1.append('tspan').attr('font-style', 'italic').text('x');
xl1.append('tspan').attr('font-size', subSize).attr('dy', 6).text('1');

const xl2 = svg.append('text').attr('x', (M + R) / 2).attr('y', 2236)
  .attr('text-anchor', 'middle').attr('font-size', labSize);
xl2.append('tspan').text('SALT2 ');
xl2.append('tspan').attr('font-style', 'italic').text('c');

svg.append('text').attr('transform', `translate(92,${(T + MY) / 2 + 14}) rotate(-90)`)
  .attr('text-anchor', 'middle').attr('font-size', labSize)
  .text('Si II velocity [1000 km/s]');

const yl2 = svg.append('text').attr('transform', `translate(92,${(MY + B) / 2}) rotate(-90)`)
  .attr('text-anchor', 'middle').attr('font-size', 72);
yl2.append('tspan').text('Host galaxy stellar mass, log(');
yl2.append('tspan').attr('font-style', 'italic').text('M');
yl2.append('tspan').attr('font-size', 48).attr('dy', 11).text('\u22c6');
yl2.append('tspan').attr('dy', -11).text('/');
yl2.append('tspan').attr('font-style', 'italic').text('M');
yl2.append('tspan').attr('font-size', 48).attr('dy', 11).text('\u2299');
yl2.append('tspan').attr('dy', -11).text(')');

// title
svg.append('text').attr('x', 2735).attr('y', 80).attr('text-anchor', 'end')
  .attr('font-size', 84).style('font-family', '"Liberation Sans", Arial, sans-serif')
  .text('Dettman et al. (2021)');

// legend
const legCols = [colCSP, colW09, colFnd];
const patchFill = ['#e2a6a8', '#e5c3a5', '#a9bbeb'];
legendLabels.forEach((lab, i) => {
  const cy = 159 + i * 86;
  const g = svg.append('g');
  g.append('circle').attr('cx', 2128).attr('cy', cy).attr('r', 13)
    .attr('fill', legCols[i]).attr('fill-opacity', alpha)
    .attr('stroke', legCols[i]).attr('stroke-opacity', alpha).attr('stroke-width', 2);
  const rx = 2178, ry = cy - 21, rw = 49, rh = 42;
  g.append('rect').attr('x', rx).attr('y', ry).attr('width', rw).attr('height', rh).attr('fill', patchFill[i]);
  const hatch = [
    [[0.23, 1, 1, 0.16]],
    [[0.47, 0.02, 1, 0.6], [0, 0.67, 0.28, 1]],
    [[0.16, 0, 0.16, 1], [0.72, 0, 0.72, 1]]
  ][i];
  hatch.forEach(h => g.append('line')
    .attr('x1', rx + h[0] * rw).attr('y1', ry + h[1] * rh)
    .attr('x2', rx + h[2] * rw).attr('y2', ry + h[3] * rh)
    .attr('stroke', '#000').attr('stroke-width', 2));
  g.append('text').attr('x', 2245).attr('y', cy + 20).attr('font-size', 60).text(lab);
});
</script>
</body>
</html>
